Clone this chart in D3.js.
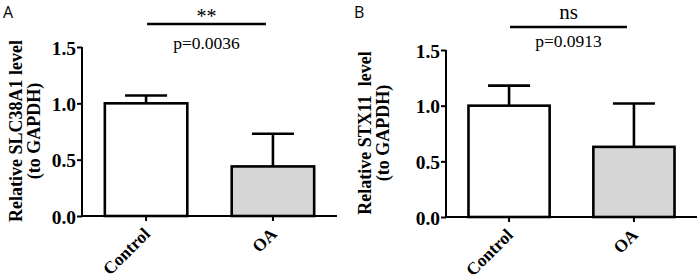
<!DOCTYPE html>
<html>
<head>
<meta charset="utf-8">
<script src="https://cdn.jsdelivr.net/npm/d3@7"></script>
<style>
    body { margin: 0; background: #fff; }
    svg { display: block; }
    .serif { font-family: "Liberation Serif", "Times New Roman", serif; }
</style>
</head>
<body>
<svg id="chart" width="699" height="280"></svg>
<script>
const categories = ["Control", "OA"]
const yTicks = [0.0, 0.5, 1.0, 1.5]

// panel A: SLC38A1
const slcMean = [1.0, 0.44]
const slcErr = [0.07, 0.29]
const slcStars = "**"
const slcP = "p=0.0036"

// panel B: STX11
const stxMean = [1.0, 0.63]
const stxErr = [0.18, 0.39]
const stxStars = "ns"
const stxP = "p=0.0913"

const barFill = ["#ffffff", "#d6d6d6"]

const svg = d3.select("#chart")

function drawPanel(opts) {
    const g = svg.append("g")

    const x = d3.scaleBand()
        .domain(categories)
        .range([opts.x0, opts.x1])
        .paddingInner(0.35)
        .paddingOuter(0.18)

    const y = d3.scaleLinear()
        .domain([0, 1.5])
        .range([opts.yBottom, opts.yTop])

    const rows = categories.map((c, i) => ({ cat: c, mean: opts.mean[i], err: opts.err[i], fill: barFill[i] }))

    // bars
    g.selectAll("rect.bar")
        .data(rows)
        .join("rect")
        .attr("class", "bar")
        .attr("x", d => x(d.cat))
        .attr("y", d => y(d.mean))
        .attr("width", x.bandwidth())
        .attr("height", d => y(0) - y(d.mean))
        .style("fill", d => d.fill)
        .style("stroke", "#000")
        .style("stroke-width", 2.6)

    // error bars (upper only)
    const capW = 42
    g.selectAll("line.errV")
        .data(rows)
        .join("line")
        .attr("class", "errV")
        .attr("x1", d => x(d.cat) + x.bandwidth() / 2)
        .attr("x2", d => x(d.cat) + x.bandwidth() / 2)
        .attr("y1", d => y(d.mean))
        .attr("y2", d => y(d.mean + d.err))
        .style("stroke", "#000")
        .style("stroke-width", 2.6)

    g.selectAll("line.errCap")
        .data(rows)
        .join("line")
        .attr("class", "errCap")
        .attr("x1", d => x(d.cat) + x.bandwidth() / 2 - capW / 2)
        .attr("x2", d => x(d.cat) + x.bandwidth() / 2 + capW / 2)
        .attr("y1", d => y(d.mean + d.err))
        .attr("y2", d => y(d.mean + d.err))
        .style("stroke", "#000")
        .style("stroke-width", 2.6)

    // y axis
    const yAxis = g.append("g")
        .attr("transform", `translate(${opts.x0},0)`)
        .call(d3.axisLeft(y).tickValues(yTicks).tickFormat(d3.format(".1f")).tickSize(5).tickPadding(1))
    yAxis.select(".domain").attr("d", `M0,${opts.yTop}V${opts.yBottom}`)

    // x axis
    const xAxis = g.append("g")
        .attr("transform", `translate(0,${opts.yBottom})`)
        .call(d3.axisBottom(x).tickSize(5).tickFormat(""))
    xAxis.select(".domain").attr("d", `M${opts.x0},0H${opts.x1}`)

    g.selectAll(".domain, .tick line")
        .style("stroke", "#000")
        .style("stroke-width", 2)

    yAxis.selectAll(".tick text")
        .attr("class", "serif")
        .attr("dy", "0.36em")
        .style("font-size", "19.5px")
        .style("font-weight", "bold")
        .style("fill", "#000")

    // rotated category labels
    g.selectAll("text.cat")
        .data(categories)
        .join("text")
        .attr("class", "cat serif")
        .attr("transform", d => `translate(${x(d) + x.bandwidth() / 2 + 5},${opts.yBottom + 19}) rotate(-45)`)
        .attr("text-anchor", "end")
        .style("font-size", "17.5px")
        .style("font-weight", "bold")
        .text(d => d)

    // y label
    const yl = g.append("text")
        .attr("class", "serif")
        .attr("transform", `translate(${opts.labelX},${opts.labelY}) rotate(-90)`)
        .attr("text-anchor", "middle")
        .style("font-size", "18px")
        .style("font-weight", "bold")
        .style("white-space", "pre")
    yl.append("tspan").attr("x", 0).attr("y", 0).text(opts.ylabel)
    yl.append("tspan").attr("x", 0).attr("y", 17.5).text("(to GAPDH)")

    // significance bracket
    const c0 = x(categories[0]) + x.bandwidth() / 2
    const c1 = x(categories[1]) + x.bandwidth() / 2
    g.append("line")
        .attr("x1", c0 + 1)
        .attr("x2", c1 - 7)
        .attr("y1", opts.sigY)
        .attr("y2", opts.sigY)
        .style("stroke", "#000")
        .style("stroke-width", 2.6)

    g.append("text")
        .attr("class", "serif")
        .attr("x", (c0 + c1) / 2 - 3)
        .attr("y", opts.sigY - (opts.stars === "**" ? 1 : 8))
        .attr("text-anchor", "middle")
        .style("font-size", opts.stars === "**" ? "20px" : "21px")
        .text(opts.stars)

    g.append("text")
        .attr("class", "serif")
        .attr("x", (c0 + c1) / 2 - 3)
        .attr("y", opts.sigY + opts.pGap)
        .attr("text-anchor", "middle")
        .style("font-size", "17.5px")
        .text(opts.p)

    // panel letter
    svg.append("text")
        .attr("x", opts.letterX)
        .attr("y", 17.5)
        .style("font-family", "'Open Sans', 'DejaVu Sans', sans-serif")
        .style("font-size", "16px")
        .text(opts.letter)
}

drawPanel({
    x0: 82, x1: 337, yTop: 47, yBottom: 216,
    mean: slcMean, err: slcErr, stars: slcStars, p: slcP, pGap: 25,
    ylabel: "Relative SLC38A1 level", labelX: 22, labelY: 131,
    sigY: 24, letter: "A", letterX: 3
})

drawPanel({
    x0: 446, x1: 697, yTop: 50, yBottom: 217,
    mean: stxMean, err: stxErr, stars: stxStars, p: stxP, pGap: 20,
    ylabel: "Relative STX11  level", labelX: 371, labelY: 133,
    sigY: 27, letter: "B", letterX: 354
})
</script>
</body>
</html>
